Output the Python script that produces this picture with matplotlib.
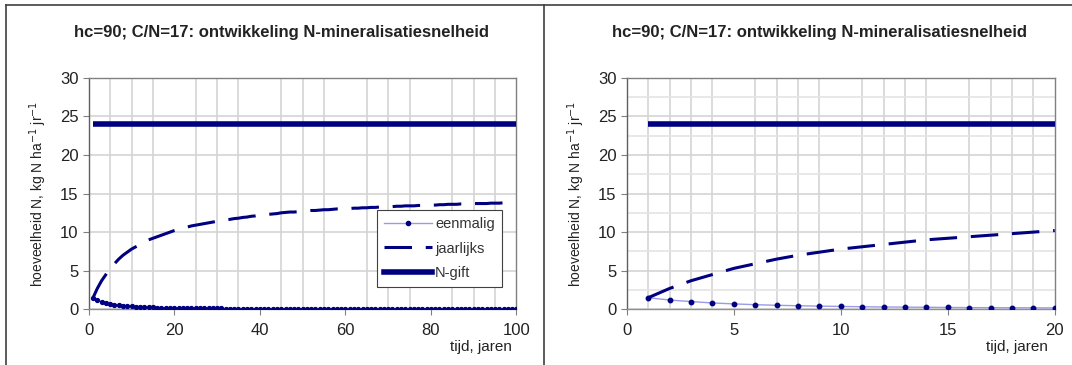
import matplotlib
matplotlib.use("Agg")
import matplotlib.pyplot as plt
from matplotlib.lines import Line2D
from matplotlib.ticker import MultipleLocator

plt.rcParams["font.family"] = ["Liberation Sans", "DejaVu Sans"]

TITLE = "hc=90; C/N=17: ontwikkeling N-mineralisatiesnelheid"
YLABEL = "hoeveelheid N, kg N ha$^{-1}$ jr$^{-1}$"
XLABEL = "tijd, jaren"
LEGEND_LABELS = ["eenmalig", "jaarlijks", "N-gift"]

years = list(range(1, 101))

# eenmalig: single application, mineralisation per year
eenmalig = [
    1.50, 1.20, 1.00, 0.82, 0.70, 0.60, 0.52, 0.46, 0.41, 0.37,
    0.33, 0.30, 0.28, 0.26, 0.24, 0.22, 0.21, 0.20, 0.19, 0.18,
    0.17, 0.16, 0.15, 0.15, 0.14, 0.13, 0.13, 0.12, 0.12, 0.11,
    0.11, 0.10, 0.10, 0.10, 0.09, 0.09, 0.09, 0.08, 0.08, 0.08,
    0.08, 0.07, 0.07, 0.07, 0.07, 0.06, 0.06, 0.06, 0.06, 0.06,
    0.05, 0.05, 0.05, 0.05, 0.05, 0.05, 0.05, 0.04, 0.04, 0.04,
    0.04, 0.04, 0.04, 0.04, 0.04, 0.04, 0.03, 0.03, 0.03, 0.03,
    0.03, 0.03, 0.03, 0.03, 0.03, 0.03, 0.03, 0.03, 0.03, 0.03,
    0.02, 0.02, 0.02, 0.02, 0.02, 0.02, 0.02, 0.02, 0.02, 0.02,
    0.02, 0.02, 0.02, 0.02, 0.02, 0.02, 0.02, 0.02, 0.02, 0.02,
]

# jaarlijks: yearly application, mineralisation per year
jaarlijks = [
    1.5, 2.7, 3.7, 4.5, 5.3, 5.9, 6.5, 7.0, 7.4, 7.8,
    8.1, 8.4, 8.7, 9.0, 9.2, 9.4, 9.6, 9.8, 10.0, 10.2,
    10.35, 10.5, 10.65, 10.8, 10.9, 11.0, 11.1, 11.2, 11.3, 11.4,
    11.5, 11.6, 11.65, 11.75, 11.8, 11.9, 11.95, 12.05, 12.1, 12.2,
    12.25, 12.3, 12.35, 12.4, 12.5, 12.55, 12.6, 12.6, 12.65, 12.7,
    12.75, 12.8, 12.8, 12.85, 12.9, 12.9, 12.95, 13.0, 13.0, 13.05,
    13.05, 13.1, 13.1, 13.15, 13.15, 13.2, 13.2, 13.25, 13.25, 13.3,
    13.3, 13.35, 13.35, 13.4, 13.4, 13.4, 13.45, 13.45, 13.5, 13.5,
    13.5, 13.55, 13.55, 13.6, 13.6, 13.6, 13.65, 13.65, 13.65, 13.7,
    13.7, 13.7, 13.7, 13.75, 13.75, 13.75, 13.8, 13.8, 13.8, 13.8,
]

n_gift = [24.0] * 100

NAVY = "#000080"
LIGHT = "#9a9ae8"
GRID = "#d4d4d4"
SPINE = "#808080"
DASH = (9, 4.5)


def draw_panel(ax, n, xmax, xstep, xgrid, minor_y):
    x = years[:n]
    ax.plot(x, eenmalig[:n], color=LIGHT, lw=1.0, zorder=3)
    ax.plot(x, eenmalig[:n], ls="none", marker="o", ms=3.2 if n < 50 else 2.8,
            color=NAVY, zorder=4)
    ax.plot(x, jaarlijks[:n], color=NAVY, lw=2.2, dashes=DASH, zorder=3)
    ax.plot(x, n_gift[:n], color=NAVY, lw=4, solid_capstyle="butt", zorder=3)

    ax.set_xlim(0, xmax)
    ax.set_ylim(0, 30)
    ax.xaxis.set_major_locator(MultipleLocator(xstep))
    ax.yaxis.set_major_locator(MultipleLocator(5))
    ax.xaxis.set_minor_locator(MultipleLocator(xgrid))
    ax.grid(which="major", axis="y", color=GRID, lw=1.2)
    ax.grid(which="minor", axis="x", color=GRID, lw=1.2)
    if minor_y:
        ax.yaxis.set_minor_locator(MultipleLocator(2.5))
        ax.grid(which="minor", axis="y", color="#e4e4e4", lw=1.2)
    ax.tick_params(which="minor", length=0)
    ax.tick_params(which="major", direction="out", length=4, color=SPINE,
                   labelsize=12, labelcolor="#222222")
    ax.tick_params(axis="x", pad=6)
    for s in ax.spines.values():
        s.set_color(SPINE)
        s.set_linewidth(1.0)
    ax.spines["left"].set_color("#606060")
    ax.spines["bottom"].set_color("#909090")
    ax.set_axisbelow(True)
    ax.set_ylabel(YLABEL, fontsize=10, color="#222222", labelpad=8)


fig = plt.figure(figsize=(10.72, 3.65), dpi=100)

ax1 = fig.add_axes([0.0828, 0.1526, 0.399, 0.6345])
draw_panel(ax1, 100, 100, 20, 5, False)
ax2 = fig.add_axes([0.5847, 0.1526, 0.3992, 0.6345])
draw_panel(ax2, 20, 20, 5, 1, True)

fig.text(281.5 / 1072, 1 - 32 / 365, TITLE, ha="center", va="center",
         fontsize=12, fontweight="bold", color="#222222")
fig.text(820 / 1072, 1 - 32 / 365, TITLE, ha="center", va="center",
         fontsize=12, fontweight="bold", color="#222222")
fig.text(512 / 1072, 1 - 347 / 365, XLABEL, ha="right", va="center",
         fontsize=11, color="#222222")
fig.text(1048 / 1072, 1 - 347 / 365, XLABEL, ha="right", va="center",
         fontsize=11, color="#222222")

handles = [
    Line2D([], [], color=LIGHT, lw=1.0, marker="o", ms=3,
           markerfacecolor=NAVY, markeredgecolor=NAVY),
    Line2D([], [], color=NAVY, lw=2.2, dashes=DASH),
    Line2D([], [], color=NAVY, lw=4),
]
leg = ax1.legend(handles, LEGEND_LABELS, loc="lower right",
                 bbox_to_anchor=(502 / 1072, 1 - 287 / 365),
                 bbox_transform=fig.transFigure, fontsize=10.5,
                 frameon=True, fancybox=False, framealpha=1,
                 edgecolor="#404040", handlelength=3.3, borderpad=0.5,
                 labelspacing=0.7, handletextpad=0.2, borderaxespad=0)
leg.get_frame().set_linewidth(0.8)
for t in leg.get_texts():
    t.set_color("#333333")

# outer frame lines of the two chart boxes
border = "#404040"
fig.add_artist(Line2D([6 / 1072, 1], [1 - 5 / 365, 1 - 5 / 365],
                      color=border, lw=1.2, transform=fig.transFigure))
fig.add_artist(Line2D([6 / 1072, 6 / 1072], [0, 1 - 5 / 365],
                      color=border, lw=1.2, transform=fig.transFigure))
fig.add_artist(Line2D([544 / 1072, 544 / 1072], [0, 1 - 5 / 365],
                      color=border, lw=1.2, transform=fig.transFigure))

fig.savefig("out.png", dpi=100, facecolor="white")
